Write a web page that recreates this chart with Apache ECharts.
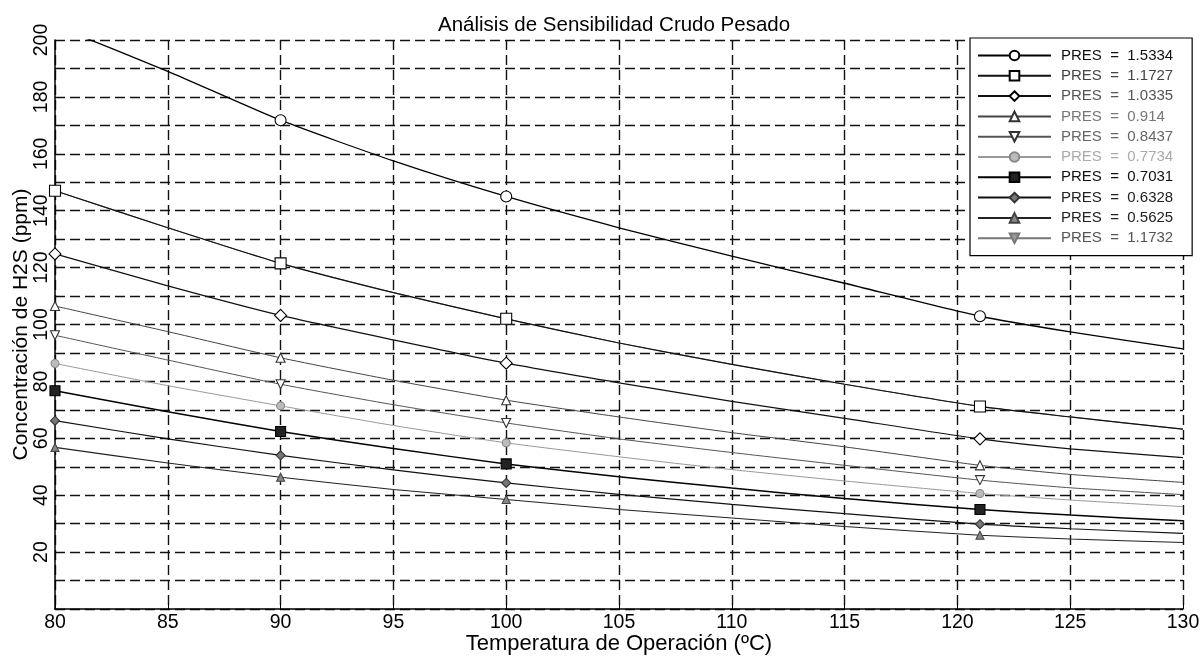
<!DOCTYPE html>
<html>
<head>
<meta charset="utf-8">
<script src="https://cdn.jsdelivr.net/npm/echarts@6/dist/echarts.min.js"></script>
<style>
  html, body { margin: 0; padding: 0; background: #fff; }
  #chart { width: 1204px; height: 659px; }
</style>
</head>
<body>
<div id="chart"></div>
<script>
// temperaturas (ºC) donde se leen las curvas, y donde van los marcadores
var temps = [80, 85, 90, 95, 100, 105, 110, 115, 121, 125, 130];
var markTemps = [80, 90, 100, 121];

var presNames = ['PRES  =  1.5334', 'PRES  =  1.1727', 'PRES  =  1.0335', 'PRES  =  0.914', 'PRES  =  0.8437',
                 'PRES  =  0.7734', 'PRES  =  0.7031', 'PRES  =  0.6328', 'PRES  =  0.5625', 'PRES  =  1.1732'];

// concentracion de H2S (ppm)
var pres15334 = [205, 189, 171.8, 157.5, 145, 134, 124, 114.5, 102.9, 97.4, 91.4];
var pres11727 = [147, 134, 121.5, 111.2, 102, 93.5, 86, 79, 71.2, 67.5, 63.2];
var pres10335 = [124.8, 113.6, 103.2, 94.6, 86.4, 79.5, 73, 67, 59.8, 56.3, 53.2];
var pres0914  = [106.5, 97.5, 88.3, 80.4, 73.4, 67.5, 62, 57, 50.5, 47.3, 44.5];
var pres08437 = [96.2, 87.5, 79, 71.8, 65.4, 59.8, 55, 50.5, 45.3, 42.6, 40.2];
var pres07734 = [86.3, 78.5, 71.4, 64.5, 58.4, 53.5, 49, 45, 40.6, 38.3, 36];
var pres07031 = [76.7, 69.3, 62.4, 56.4, 51, 46.5, 42.5, 38.8, 35, 33, 31];
var pres06328 = [66.2, 59.8, 54, 48.9, 44.3, 40.3, 36.8, 33.5, 29.8, 28.2, 26.6];
var pres05625 = [56.8, 51.3, 46.3, 42, 38.5, 35, 32, 29, 25.9, 24.6, 23.4];
var pres11732 = [147, 134, 121.5, 111.2, 102, 93.5, 86, 79, 71.2, 67.5, 63.2];

var font = 'Liberation Sans, Arial, sans-serif';
var triDown = 'path://M0,0L10,0L5,9Z';

function pts(ys) {
  return temps.map(function (t, i) {
    var p = { value: [t, ys[i]] };
    if (markTemps.indexOf(t) < 0) p.symbol = 'none';
    return p;
  });
}

function curve(name, ys, symbol, size, fill, edge, lineColor, lineWidth, z) {
  return {
    name: name,
    type: 'line',
    data: pts(ys),
    smooth: 0.2,
    symbol: symbol,
    symbolSize: size,
    showAllSymbol: true,
    z: z || 2,
    lineStyle: { color: lineColor, width: lineWidth },
    itemStyle: { color: fill, borderColor: edge, borderWidth: 1.1 },
    emphasis: { disabled: true }
  };
}

var chart = echarts.init(document.getElementById('chart'));

var txtColors = ['#111', '#444', '#555', '#777', '#666', '#aaa', '#111', '#222', '#222', '#555'];

var option = {
  backgroundColor: '#fff',
  animation: false,
  title: {
    text: 'Análisis de Sensibilidad Crudo Pesado',
    left: 433,
    top: 10,
    textStyle: { fontFamily: font, fontSize: 20.5, fontWeight: 'normal', color: '#000' }
  },
  grid: { left: 55, right: 21, top: 40, bottom: 50, containLabel: false, outerBoundsMode: 'none' },
  legend: {
    orient: 'vertical',
    left: 970,
    top: 38,
    padding: [10, 19, 10, 7],
    itemWidth: 73,
    itemHeight: 12,
    itemGap: 5.3,
    backgroundColor: '#fff',
    borderColor: '#000',
    borderWidth: 1.2,
    data: presNames.map(function (n, i) {
      return { name: n, textStyle: { color: txtColors[i] } };
    }),
    textStyle: { fontFamily: font, fontSize: 15, padding: [0, 0, 0, 5] }
  },
  xAxis: {
    type: 'value',
    min: 80,
    max: 130,
    interval: 5,
    name: 'Temperatura de Operación (ºC)',
    nameLocation: 'middle',
    nameGap: 23.5,
    nameMoveOverlap: false,
    nameTextStyle: { fontFamily: font, fontSize: 22, color: '#000' },
    axisLine: { lineStyle: { color: '#000', width: 1.5 } },
    axisTick: { inside: true, length: 5, lineStyle: { color: '#000' } },
    axisLabel: { fontFamily: font, fontSize: 19.5, color: '#000', margin: 4 },
    splitLine: { show: true, lineStyle: { color: '#111', width: 1.4, type: [10, 5] } }
  },
  yAxis: {
    type: 'value',
    min: 0,
    max: 200,
    interval: 10,
    name: 'Concentración de H2S (ppm)',
    nameLocation: 'middle',
    nameGap: 23,
    nameMoveOverlap: false,
    nameTextStyle: { fontFamily: font, fontSize: 21, color: '#000' },
    axisLine: { show: true, lineStyle: { color: '#000', width: 1.5 } },
    axisTick: { show: false },
    axisLabel: {
      fontFamily: font, fontSize: 19.5, color: '#000', rotate: 90, margin: 3,
      formatter: function (v) { return (v > 0 && v % 20 === 0) ? String(v) : ''; }
    },
    splitLine: { show: true, lineStyle: { color: '#111', width: 1.4, type: [10, 5] } }
  },
  series: [
    curve(presNames[0], pres15334, 'circle', 11, '#fff', '#000', '#000', 1.3),
    curve(presNames[1], pres11727, 'rect', 11, '#fff', '#000', '#111', 1.2),
    curve(presNames[2], pres10335, 'diamond', 12, '#fff', '#000', '#111', 1.2),
    curve(presNames[3], pres0914, 'triangle', 9, '#fff', '#333', '#444', 1),
    curve(presNames[4], pres08437, triDown, 9, '#fff', '#333', '#555', 1),
    curve(presNames[5], pres07734, 'circle', 8, '#bbb', '#888', '#999', 1),
    curve(presNames[6], pres07031, 'rect', 10, '#222', '#000', '#000', 1.5),
    curve(presNames[7], pres06328, 'diamond', 9, '#777', '#333', '#111', 1.2),
    curve(presNames[8], pres05625, 'triangle', 8, '#888', '#444', '#222', 1.1),
    curve(presNames[9], pres11732, triDown, 8, '#999', '#777', '#777', 1, 1)
  ]
};

chart.setOption(option);
</script>
</body>
</html>
